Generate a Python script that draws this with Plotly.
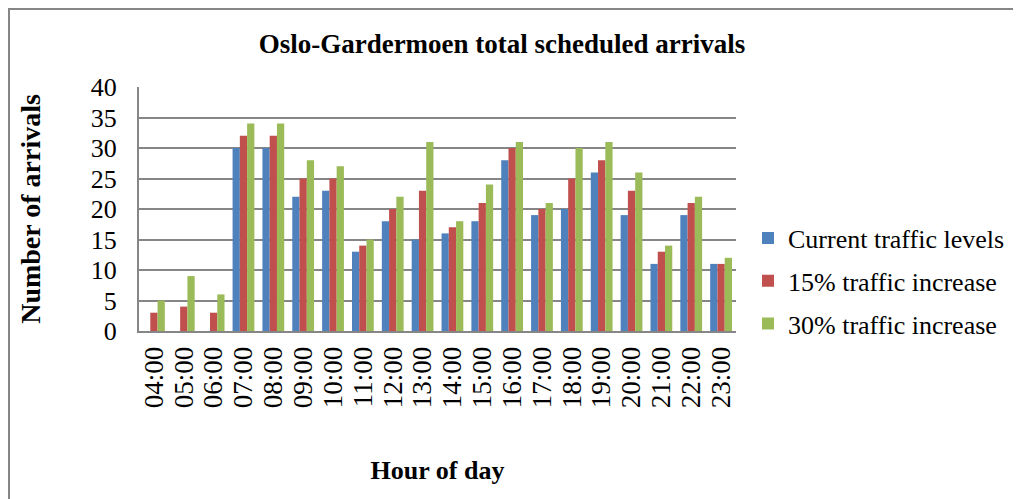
import plotly.graph_objects as go

hours = ["04:00", "05:00", "06:00", "07:00", "08:00", "09:00", "10:00", "11:00", "12:00", "13:00",
         "14:00", "15:00", "16:00", "17:00", "18:00", "19:00", "20:00", "21:00", "22:00", "23:00"]
current = [0, 0, 0, 30, 30, 22, 23, 13, 18, 15, 16, 18, 28, 19, 20, 26, 19, 11, 19, 11]
inc15 = [3, 4, 3, 32, 32, 25, 25, 14, 20, 23, 17, 21, 30, 20, 25, 28, 23, 13, 21, 11]
inc30 = [5, 9, 6, 34, 34, 28, 27, 15, 22, 31, 18, 24, 31, 21, 30, 31, 26, 14, 22, 12]
y_ticks = [0, 5, 10, 15, 20, 25, 30, 35, 40]

series = [
    ("Current traffic levels", current, "#4F81BD"),
    ("15% traffic increase", inc15, "#C0504D"),
    ("30% traffic increase", inc30, "#9BBB59"),
]

FONT = "Liberation Serif, Times New Roman, serif"

# page body has an 8px margin, so figure coordinates = reference - 8
OFF = 8
W, H = 1045, 491
L, T = 139 - OFF, 87 - OFF
R, B = W - (736 - OFF), H - (331 - OFF)
pw, ph = W - L - R, H - T - B

fig = go.Figure()
for i, (name, vals, col) in enumerate(series):
    fig.add_trace(go.Bar(x=hours, y=vals, name=name, marker_color=col,
                         marker_line_width=0, legendgroup=f"g{i}"))

fig.update_layout(
    width=W, height=H,
    margin=dict(l=L, r=R, t=T, b=B),
    paper_bgcolor="white", plot_bgcolor="white",
    font=dict(family=FONT, size=26, color="black"),
    barmode="group", bargap=0.27, bargroupgap=0,
    title=dict(text="<b>Oslo-Gardermoen total scheduled arrivals</b>",
               x=(502 - OFF) / W, xanchor="center", y=1 - (44 - OFF) / H, yanchor="middle",
               font=dict(family=FONT, size=27, color="black")),
    legend=dict(x=(748 - OFF - L) / pw, xanchor="left",
                y=((331 - OFF) - (281 - OFF)) / ph, yanchor="middle",
                font=dict(family=FONT, size=26, color="black"),
                tracegroupgap=6, itemwidth=30, bgcolor="rgba(0,0,0,0)"),
    shapes=[dict(type="rect", xref="paper", yref="paper",
                 x0=(1 - L) / pw, x1=(W + 40 - L) / pw,
                 y0=-(B + 40) / ph, y1=1 + (T - 1) / ph,
                 line=dict(color="#868686", width=2), layer="below")],
)
fig.update_xaxes(
    automargin=False, tickmode="array", tickvals=hours, ticktext=hours,
    tickangle=-90, showline=True, linecolor="#868686", linewidth=2,
    showgrid=False, ticks="", ticklabelstandoff=3,
    tickfont=dict(family=FONT, size=27, color="black"),
    title=dict(text="<b>Hour of day</b>", standoff=53,
               font=dict(family=FONT, size=26, color="black")),
)
fig.update_yaxes(
    automargin=False,
    range=[0, 40], tickvals=y_ticks, showline=True, linecolor="#868686", linewidth=2,
    showgrid=True, gridcolor="#868686", gridwidth=2, zeroline=False, ticks="",
    ticklabelstandoff=15,
    tickfont=dict(family=FONT, size=26, color="black"),
    title=dict(text="<b>Number of arrivals</b>", standoff=42,
               font=dict(family=FONT, size=28, color="black")),
)

fig.write_html("out.html")
